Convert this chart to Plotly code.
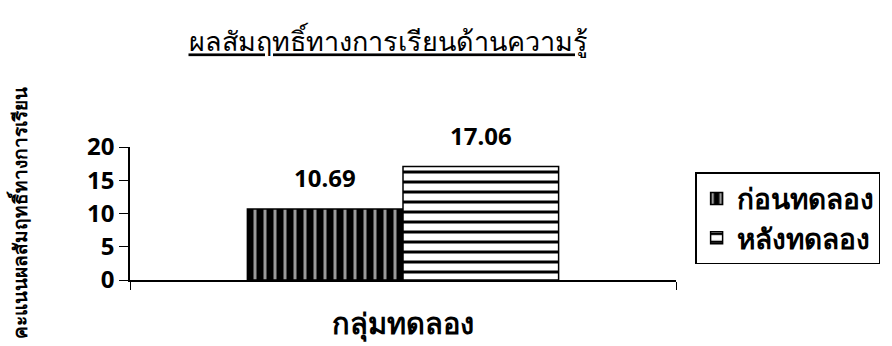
import plotly.graph_objects as go

# Achievement scores of the experimental group, before and after
group = ["กลุ่มทดลอง"]
series_names = ["ก่อนทดลอง", "หลังทดลอง"]
before_scores = [10.69]
after_scores = [17.06]
y_ticks = [0, 5, 10, 15, 20]

FONT = "Noto Sans, Lato, DejaVu Sans, sans-serif"

fig = go.Figure()
fig.add_trace(go.Bar(
    name=series_names[0], x=group, y=before_scores,
    marker=dict(color="black",
                line=dict(color="black", width=1.5),
                pattern=dict(shape="|", bgcolor="black", fgcolor="#9a9a9a",
                             size=10, solidity=0.3, fillmode="replace")),
))
fig.add_trace(go.Bar(
    name=series_names[1], x=group, y=after_scores,
    marker=dict(color="white",
                line=dict(color="black", width=1.5),
                pattern=dict(shape="-", bgcolor="white", fgcolor="black",
                             size=10, solidity=0.3, fillmode="replace")),
))

# value labels above each bar
offsets = [-78, 78]
for vals, dx in zip([before_scores, after_scores], offsets):
    for cat, v in zip(group, vals):
        fig.add_annotation(x=cat, y=v, xref="x", yref="y", text=f"<b>{v:.2f}</b>",
                           showarrow=False, xshift=dx, yshift=13, yanchor="bottom",
                           font=dict(family=FONT, size=24, color="black"))

fig.update_layout(
    width=892, height=346,
    margin=dict(l=130, r=216, t=147, b=66, autoexpand=False),
    paper_bgcolor="white", plot_bgcolor="white",
    barmode="group", bargap=0.43, bargroupgap=0,
    font=dict(family=FONT, color="black"),
    title=dict(text="<u>ผลสัมฤทธิ์ทางการเรียนด้านความรู้</u>",
               x=(388 - 130) / 546, xref="paper", xanchor="center",
               y=1 - 42 / 346, yanchor="middle",
               font=dict(family=FONT, size=27, color="black", weight="normal")),
    legend=dict(x=1.035, y=0.81, xanchor="left", yanchor="top",
                bordercolor="black", borderwidth=1.5, bgcolor="white",
                font=dict(family=FONT, size=28, color="black", weight="bold"),
                itemwidth=30, tracegroupgap=0),
    showlegend=True,
)
fig.update_xaxes(
    automargin=False,
    showline=True, linecolor="black", linewidth=1.5,
    ticks="outside", tickson="boundaries", ticklen=8, tickcolor="black",
    ticklabelstandoff=17,
    tickfont=dict(family=FONT, size=29, color="black", weight="bold"),
    showgrid=False,
)
fig.update_yaxes(
    automargin=False,
    range=[0, 20], tickvals=y_ticks,
    showline=True, linecolor="black", linewidth=1.5,
    ticks="outside", ticklen=9, tickcolor="black",
    tickfont=dict(family=FONT, size=24, color="black", weight="bold"),
    showgrid=False, zeroline=False,
    title=dict(text="คะแนนผลสัมฤทธิ์ทางการเรียน", standoff=54,
               font=dict(family=FONT, size=19, color="black", weight="bold")),
)

fig.write_html("out.html")
